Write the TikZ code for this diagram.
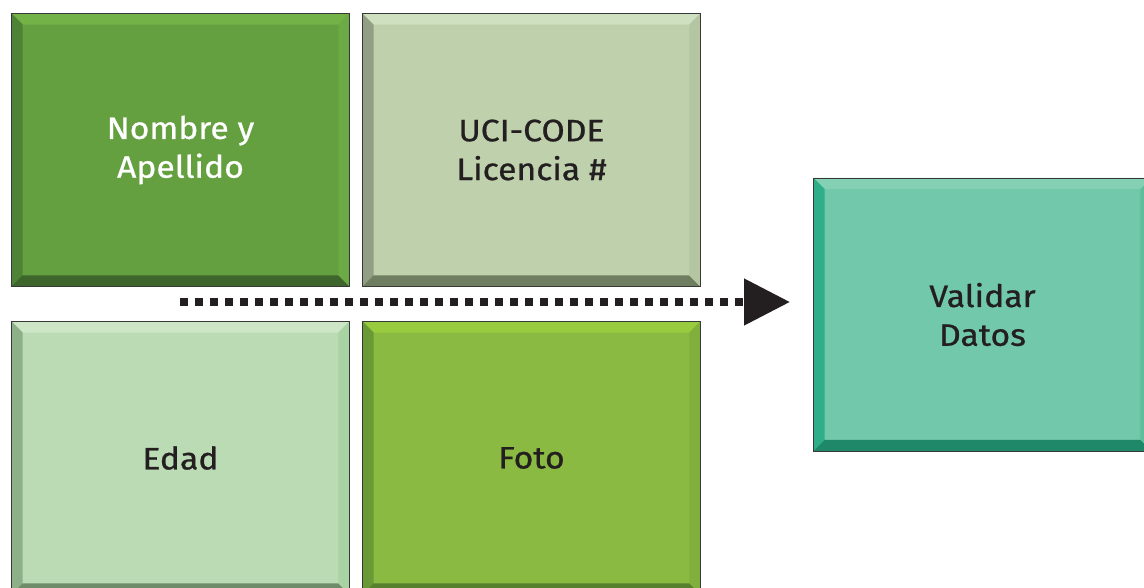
\documentclass[tikz,border=0pt]{standalone}
\usepackage{fontspec}
\setmainfont{Fira Sans}[FakeStretch=1.09, FakeBold=0.8]
\usetikzlibrary{arrows.meta, positioning, calc}

\definecolor{nomMain}{HTML}{64A03F}
\definecolor{nomTop}{HTML}{72B247}
\definecolor{nomLeft}{HTML}{4E8237}
\definecolor{nomBot}{HTML}{3E662C}
\definecolor{nomRight}{HTML}{6BAA44}
\definecolor{uciMain}{HTML}{BED0AC}
\definecolor{uciTop}{HTML}{CEE0BF}
\definecolor{uciLeft}{HTML}{929F85}
\definecolor{uciBot}{HTML}{6F7D60}
\definecolor{uciRight}{HTML}{B3C6A1}
\definecolor{edadMain}{HTML}{BBDBB5}
\definecolor{edadTop}{HTML}{CDE6C6}
\definecolor{edadLeft}{HTML}{8DB088}
\definecolor{edadBot}{HTML}{6F8C6A}
\definecolor{edadRight}{HTML}{AAD3A3}
\definecolor{fotoMain}{HTML}{8ABA41}
\definecolor{fotoTop}{HTML}{98CB3E}
\definecolor{fotoLeft}{HTML}{6A9A35}
\definecolor{fotoBot}{HTML}{56802E}
\definecolor{fotoRight}{HTML}{80B03B}
\definecolor{valMain}{HTML}{72C8AA}
\definecolor{valTop}{HTML}{83D0B4}
\definecolor{valLeft}{HTML}{2EAF8A}
\definecolor{valBot}{HTML}{1E8868}
\definecolor{valRight}{HTML}{5FBE9C}
\definecolor{ink}{HTML}{231F20}

\newcommand{\bv}{0.28cm}

\begin{document}
\begin{tikzpicture}[
    tile/.style={rectangle, draw=black!78, line width=0.7pt, fill=#1Main,
        minimum width=8.45cm, minimum height=6.825cm, inner sep=0pt,
        align=center, text=ink, font=\fontsize{22}{27.6}\selectfont,
        path picture={
            \coordinate (nw) at (path picture bounding box.north west);
            \coordinate (ne) at (path picture bounding box.north east);
            \coordinate (sw) at (path picture bounding box.south west);
            \coordinate (se) at (path picture bounding box.south east);
            \fill[#1Top] (nw) -- (ne) -- ([shift={(-\bv,-\bv)}]ne) -- ([shift={(\bv,-\bv)}]nw) -- cycle;
            \fill[#1Left] (nw) -- ([shift={(\bv,-\bv)}]nw) -- ([shift={(\bv,\bv)}]sw) -- (sw) -- cycle;
            \fill[#1Bot] (sw) -- ([shift={(\bv,\bv)}]sw) -- ([shift={(-\bv,\bv)}]se) -- (se) -- cycle;
            \fill[#1Right] (ne) -- (se) -- ([shift={(-\bv,\bv)}]se) -- ([shift={(-\bv,-\bv)}]ne) -- cycle;
        }},
    flow/.style={draw=ink, line width=0.2cm, dash pattern=on 0.2cm off 0.175cm}
]
    \useasboundingbox (0,0) rectangle (28.6,-14.7);

    \node[tile=nom, text=white, anchor=north west] (nombre) at (0.275,-0.325) {Nombre y\\Apellido};
    \node[tile=uci, right=0.3cm of nombre] (uci) {UCI-CODE\\Licencia \#};
    \node[tile=edad, below=0.85cm of nombre] (edad) {Edad};
    \node[tile=foto, right=0.3cm of edad] (foto) {Foto};

    \node[tile=val, anchor=west] (validar) at (20.325,-7.8625) {Validar\\Datos};

    \coordinate (start) at (4.5,-7.55);
    \draw[flow, -{Triangle[length=1.15cm, width=1.125cm]}, shorten >=0.575cm]
        (start) -- (start -| validar.west);
\end{tikzpicture}
\end{document}
